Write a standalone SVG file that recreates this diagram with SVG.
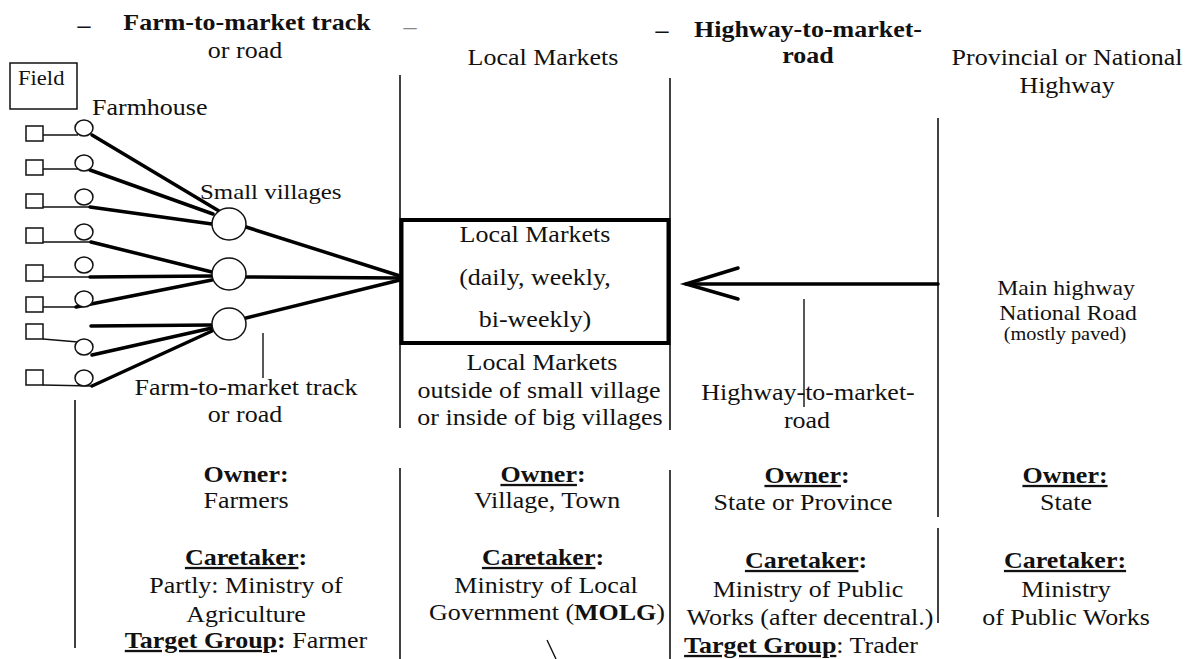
<svg xmlns="http://www.w3.org/2000/svg" width="1186" height="659" viewBox="0 0 1186 659">
  <style>
    .t { font-family: "Liberation Serif", "Times New Roman", serif; font-size: 23px; fill: #111; text-anchor: middle; }
    .s { text-anchor: start; }
    .b { font-weight: bold; }
    .sm { font-size: 21px; }
    .xs { font-size: 18px; }
    .u { text-decoration: underline; }
    .rule { stroke: #111; stroke-width: 1.6; fill: none; }
    .road { stroke: #000; stroke-width: 3.5; fill: none; stroke-linecap: round; }
    .path { stroke: #111; stroke-width: 1.4; fill: none; }
    .shape { stroke: #111; stroke-width: 1.5; fill: #fff; }
  </style>

  <rect width="1186" height="659" fill="#fff"/>

  <!-- column dividers -->
  <g id="dividers">
    <line class="rule" x1="400" y1="75" x2="400" y2="428"/>
    <line class="rule" x1="400" y1="468" x2="400" y2="659"/>
    <line class="rule" x1="670" y1="78" x2="670" y2="430"/>
    <line class="rule" x1="670" y1="470" x2="670" y2="659"/>
    <line class="rule" x1="938" y1="118" x2="938" y2="517"/>
    <line class="rule" x1="938" y1="528" x2="938" y2="623"/>
    <line class="rule" x1="75" y1="400" x2="75" y2="648"/>
  </g>

  <!-- column headings -->
  <g id="heading-farm">
    <text class="t b" transform="translate(84 33) scale(1.13 1)">–</text>
    <text class="t b" transform="translate(247 30) scale(1.13 1)">Farm-to-market track</text>
    <text class="t" transform="translate(245 58) scale(1.13 1)">or road</text>
  </g>
  <g id="heading-market">
    <text class="t" style="fill:#888" transform="translate(410 34) scale(1.13 1)">–</text>
    <text class="t" transform="translate(543 65) scale(1.13 1)">Local Markets</text>
  </g>
  <g id="heading-highway-road">
    <text class="t b" transform="translate(662 38) scale(1.13 1)">–</text>
    <text class="t b" transform="translate(808 37) scale(1.13 1)">Highway-to-market-</text>
    <text class="t b" transform="translate(808 63) scale(1.13 1)">road</text>
  </g>
  <g id="heading-national">
    <text class="t" transform="translate(1067 65) scale(1.13 1)">Provincial or National</text>
    <text class="t" transform="translate(1067 93) scale(1.13 1)">Highway</text>
  </g>

  <!-- connectors: field paths, farm tracks, market roads, highway -->
  <g id="connectors">
    <!-- field to farmhouse paths -->
    <line class="path" x1="43" y1="135" x2="78" y2="135"/>
    <line class="path" x1="43" y1="169" x2="80" y2="169"/>
    <line class="path" x1="43" y1="207" x2="90" y2="207"/>
    <line class="path" x1="43" y1="242" x2="91" y2="242"/>
    <line class="path" x1="43" y1="277" x2="90" y2="277"/>
    <line class="path" x1="43" y1="307" x2="76" y2="307"/>
    <line class="path" x1="43" y1="339" x2="78" y2="342"/>
    <line class="path" x1="43" y1="385" x2="92" y2="386"/>

    <!-- farm-to-market tracks into small villages -->
    <line class="road" x1="92" y1="135" x2="219" y2="211"/>
    <line class="road" x1="90" y1="170" x2="213" y2="214"/>
    <line class="road" x1="90" y1="207" x2="212" y2="224"/>
    <line class="road" x1="91" y1="242" x2="212" y2="272"/>
    <line class="road" x1="90" y1="277" x2="212" y2="276"/>
    <line class="road" x1="76" y1="307" x2="212" y2="280"/>
    <line class="road" x1="91" y1="326" x2="212" y2="325"/>
    <line class="road" x1="92" y1="355" x2="212" y2="328"/>
    <line class="road" x1="92" y1="386" x2="212" y2="331"/>

    <!-- villages to local market -->
    <line class="road" x1="246" y1="227" x2="400" y2="276"/>
    <line class="road" x1="246" y1="277" x2="400" y2="278"/>
    <line class="road" x1="246" y1="318" x2="400" y2="280"/>

    <!-- highway into local market -->
    <line class="road" x1="686" y1="284" x2="938" y2="284"/>
    <polyline class="road" points="738,268 686,284 738,299"/>

    <!-- label leaders -->
    <line class="path" x1="263" y1="333" x2="263" y2="378"/>
    <line class="path" x1="804" y1="299" x2="804" y2="407"/>
    <line class="path" x1="547" y1="640" x2="556" y2="659"/>
  </g>

  <!-- field -->
  <g id="field">
    <rect class="shape" x="10" y="63" width="67" height="46"/>
    <text class="t s" style="font-size:20px" transform="translate(18 85) scale(1.13 1)">Field</text>
  </g>

  <!-- field plots and farmhouses -->
  <g id="farms">
    <text class="t s" transform="translate(92 115) scale(1.13 1)">Farmhouse</text>
    <rect class="shape" x="26" y="126" width="17" height="15"/>
    <rect class="shape" x="26" y="160" width="17" height="15"/>
    <rect class="shape" x="26" y="194" width="17" height="14"/>
    <rect class="shape" x="26" y="228" width="17" height="15"/>
    <rect class="shape" x="26" y="265" width="17" height="16"/>
    <rect class="shape" x="26" y="297" width="17" height="15"/>
    <rect class="shape" x="26" y="324" width="17" height="15"/>
    <rect class="shape" x="26" y="370" width="17" height="15"/>
    <ellipse class="shape" cx="84" cy="128" rx="9" ry="8"/>
    <ellipse class="shape" cx="84" cy="163" rx="9" ry="8"/>
    <ellipse class="shape" cx="84" cy="197" rx="9" ry="8"/>
    <ellipse class="shape" cx="84" cy="232" rx="9" ry="8"/>
    <ellipse class="shape" cx="84" cy="265" rx="9" ry="8"/>
    <ellipse class="shape" cx="84" cy="299" rx="9" ry="8"/>
    <ellipse class="shape" cx="84" cy="347" rx="9" ry="8"/>
    <ellipse class="shape" cx="84" cy="378" rx="9" ry="8"/>
  </g>

  <!-- small villages -->
  <g id="villages">
    <text class="t s" style="font-size:22px" transform="translate(200 199) scale(1.13 1)">Small villages</text>
    <ellipse class="shape" cx="229" cy="224" rx="17" ry="16"/>
    <ellipse class="shape" cx="229" cy="274" rx="17" ry="16"/>
    <ellipse class="shape" cx="229" cy="324" rx="17" ry="16"/>
  </g>

  <g id="farm-track-label">
    <text class="t" transform="translate(246 395) scale(1.13 1)">Farm-to-market track</text>
    <text class="t" transform="translate(245 422) scale(1.13 1)">or road</text>
  </g>

  <!-- local market -->
  <g id="local-market">
    <rect x="401.5" y="220" width="267" height="123" fill="none" stroke="#000" stroke-width="4"/>
    <text class="t" transform="translate(535 242) scale(1.13 1)">Local Markets</text>
    <text class="t" transform="translate(535 285) scale(1.13 1)">(daily, weekly,</text>
    <text class="t" transform="translate(535 327) scale(1.13 1)">bi-weekly)</text>
    <text class="t" transform="translate(542 370) scale(1.13 1)">Local Markets</text>
    <text class="t" transform="translate(539 398) scale(1.13 1)">outside of small village</text>
    <text class="t" transform="translate(540 425) scale(1.13 1)">or inside of big villages</text>
  </g>

  <g id="highway-road-label">
    <text class="t" transform="translate(808 400) scale(1.13 1)">Highway-to-market-</text>
    <text class="t" transform="translate(807 428) scale(1.13 1)">road</text>
  </g>

  <g id="main-highway">
    <text class="t sm" transform="translate(1066 295) scale(1.13 1)">Main highway</text>
    <text class="t sm" transform="translate(1068 320) scale(1.13 1)">National Road</text>
    <text class="t xs" transform="translate(1065 340) scale(1.13 1)">(mostly paved)</text>
  </g>

  <!-- ownership and maintenance -->
  <g id="info-farm">
    <text class="t b" transform="translate(246 482) scale(1.13 1)">Owner:</text>
    <text class="t" transform="translate(246 508) scale(1.13 1)">Farmers</text>
    <text class="t b" transform="translate(246 565) scale(1.13 1)"><tspan class="u">Caretaker</tspan>:</text>
    <text class="t" transform="translate(246 593) scale(1.13 1)">Partly: Ministry of</text>
    <text class="t" transform="translate(246 622) scale(1.13 1)">Agriculture</text>
    <text class="t" transform="translate(246 648) scale(1.13 1)"><tspan class="b u">Target Group</tspan><tspan class="b">:</tspan> Farmer</text>
  </g>
  <g id="info-market">
    <text class="t b" transform="translate(543 482) scale(1.13 1)"><tspan class="u">Owner</tspan>:</text>
    <text class="t" transform="translate(547 508) scale(1.13 1)">Village, Town</text>
    <text class="t b" transform="translate(543 565) scale(1.13 1)"><tspan class="u">Caretaker</tspan>:</text>
    <text class="t" transform="translate(546 593) scale(1.13 1)">Ministry of Local</text>
    <text class="t" transform="translate(547 620) scale(1.13 1)">Government (<tspan class="b">MOLG</tspan>)</text>
  </g>
  <g id="info-highway-road">
    <text class="t b" transform="translate(807 483) scale(1.13 1)"><tspan class="u">Owner</tspan>:</text>
    <text class="t" transform="translate(803 510) scale(1.13 1)">State or Province</text>
    <text class="t b" transform="translate(806 568) scale(1.13 1)"><tspan class="u">Caretaker</tspan>:</text>
    <text class="t" transform="translate(808 597) scale(1.13 1)">Ministry of Public</text>
    <text class="t" transform="translate(810 625) scale(1.13 1)">Works (after decentral.)</text>
    <text class="t" transform="translate(801 653) scale(1.13 1)"><tspan class="b u">Target Group</tspan>: Trader</text>
  </g>
  <g id="info-national">
    <text class="t b" transform="translate(1065 483) scale(1.13 1)"><tspan class="u">Owner:</tspan></text>
    <text class="t" transform="translate(1066 510) scale(1.13 1)">State</text>
    <text class="t b" transform="translate(1065 568) scale(1.13 1)"><tspan class="u">Caretaker:</tspan></text>
    <text class="t" transform="translate(1066 597) scale(1.13 1)">Ministry</text>
    <text class="t" transform="translate(1066 625) scale(1.13 1)">of Public Works</text>
  </g>
</svg>
